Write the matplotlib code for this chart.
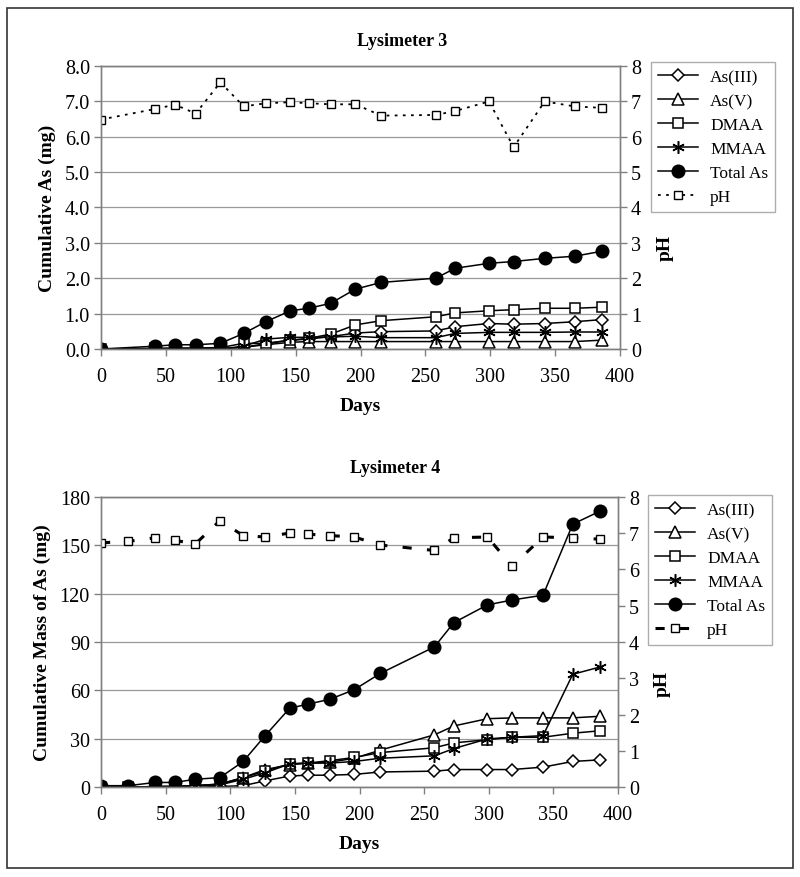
import numpy as np
import matplotlib
matplotlib.use("Agg")
import matplotlib.pyplot as plt
from matplotlib.patches import Rectangle

plt.rcParams["font.family"] = ["Liberation Serif", "DejaVu Serif"]

# ------------------------------------------------------------
# Lysimeter 3 data
# ------------------------------------------------------------
days3 = [0, 42, 57, 73, 92, 110, 127, 146, 160, 177, 196, 216, 258, 273, 299, 318, 342, 365, 386]
as3_iii = [0, 0, 0, 0, 0.01, 0.05, 0.15, 0.25, 0.28, 0.35, 0.45, 0.49, 0.51, 0.63, 0.72, 0.70, 0.72, 0.77, 0.83]
as3_v = [0, 0, 0, 0, 0, 0.05, 0.12, 0.19, 0.21, 0.21, 0.21, 0.21, 0.21, 0.21, 0.21, 0.21, 0.21, 0.21, 0.25]
dmaa3 = [0, 0.02, 0.03, 0.03, 0.04, 0.16, 0.16, 0.25, 0.30, 0.42, 0.68, 0.80, 0.91, 1.02, 1.08, 1.11, 1.15, 1.15, 1.18]
mmaa3 = [0, 0, 0, 0, 0, 0.08, 0.28, 0.33, 0.33, 0.34, 0.36, 0.32, 0.32, 0.44, 0.47, 0.47, 0.47, 0.48, 0.48]
total3 = [0, 0.08, 0.12, 0.12, 0.16, 0.44, 0.77, 1.08, 1.15, 1.29, 1.69, 1.88, 2.00, 2.28, 2.42, 2.47, 2.56, 2.62, 2.76]
ph3 = [6.48, 6.78, 6.90, 6.65, 7.53, 6.85, 6.94, 6.97, 6.94, 6.91, 6.91, 6.59, 6.61, 6.72, 6.99, 5.70, 6.99, 6.85, 6.81]

# ------------------------------------------------------------
# Lysimeter 4 data
# ------------------------------------------------------------
days4 = [0, 21, 42, 57, 73, 92, 110, 127, 146, 160, 177, 196, 216, 258, 273, 299, 318, 342, 365, 386]
as4_iii = [0, 0, 0, 0, 0, 0.5, 1, 4, 7, 7.5, 7.5, 8, 9.5, 10, 11, 11, 11, 12.5, 16, 17]
as4_v = [0, 0, 0.5, 0.5, 1, 2, 6, 11, 14, 15, 15.5, 18, 23, 32.5, 38, 42.5, 43, 43, 43, 44]
dmaa4 = [0, 0, 0.5, 0.5, 1, 2, 6, 10, 14.5, 15, 16.5, 18.5, 21.5, 24.5, 27.5, 29.5, 31, 31, 33.5, 35]
mmaa4 = [0, 0, 0.5, 0.5, 1, 1.5, 5, 9, 14.5, 15, 15, 16, 18, 19.5, 24, 30, 31, 32, 70, 74.5]
total4 = [1, 1, 3, 3, 5, 6, 16, 32, 49, 51.5, 54.5, 60.5, 70.5, 87, 102, 113, 116, 119, 163, 171]
ph4 = [6.73, 6.77, 6.87, 6.80, 6.70, 7.34, 6.93, 6.89, 7.00, 6.97, 6.93, 6.89, 6.67, 6.52, 6.87, 6.89, 6.09, 6.89, 6.87, 6.83]

labels = ["As(III)", "As(V)", "DMAA", "MMAA", "Total As", "pH"]
W, H = 800, 878

fig = plt.figure(figsize=(8.0, 8.78), dpi=100)
fig.patches.append(Rectangle((7 / W, 1 - 869 / H), 786 / W, 860 / H,
                             transform=fig.transFigure, fill=False,
                             edgecolor="#333333", linewidth=1.2))

series_style = [
    dict(marker="D", markersize=6.5, mfc="white"),
    dict(marker="^", markersize=8, mfc="white"),
    dict(marker="s", markersize=7.5, mfc="white"),
    dict(marker=(6, 2, 0), markersize=9, mfc="black"),
    dict(marker="o", markersize=9, mfc="black"),
]


def draw_panel(rect, days, series, ph, ph_style, ymax, yticks, yfmt, ylabel,
               title, title_x, title_y, legend_box, ph_label_y):
    ax = fig.add_axes(rect)
    ax2 = ax.twinx()

    handles = []
    for vals, st in zip(series, series_style):
        h, = ax.plot(days, vals, color="black", linewidth=1.1, mec="black",
                     mew=1.1, **st)
        handles.append(h)

    hp, = ax2.plot(days, ph, color="black", marker="s", markersize=6,
                   mfc="white", mec="black", mew=1.0, **ph_style)
    handles.append(hp)

    ax.set_xlim(0, 400)
    ax.set_xticks(range(0, 401, 50))
    ax.set_ylim(0, ymax)
    ax.set_yticks(yticks)
    ax.set_yticklabels([yfmt.format(v) for v in yticks])
    ax2.set_ylim(0, 8)
    ax2.set_yticks(range(0, 9))

    ax.yaxis.grid(True, color="#999999", linewidth=0.9)
    ax.set_axisbelow(True)

    for a in (ax, ax2):
        for sp in a.spines.values():
            sp.set_color("#808080")
            sp.set_linewidth(1.0)
        a.tick_params(direction="out", length=5, width=1.0, color="#808080",
                      labelsize=14.5)
    ax.tick_params(axis="x", pad=8)
    ax.tick_params(axis="y", pad=3)
    ax2.tick_params(axis="y", pad=3)

    ax.set_xlabel("Days", fontsize=14, fontweight="bold", labelpad=8)
    ax.set_ylabel(ylabel, fontsize=14, fontweight="bold", labelpad=6)
    ax2.set_ylabel("pH", fontsize=14, fontweight="bold")
    ax2.yaxis.set_label_coords(1.07, ph_label_y)

    fig.text(title_x, title_y, title, ha="center", va="center", fontsize=13,
             fontweight="bold")

    leg = ax2.legend(handles, labels, loc="upper left",
                     bbox_to_anchor=legend_box, bbox_transform=fig.transFigure,
                     fontsize=12.5, frameon=True, fancybox=False,
                     handlelength=2.3, handletextpad=0.7, borderpad=0.4,
                     labelspacing=0.45, borderaxespad=0)
    leg.get_frame().set_edgecolor("#999999")
    leg.get_frame().set_linewidth(1.0)
    return ax, ax2


draw_panel(
    [101 / W, 1 - 350 / H, 519 / W, 283.3 / H],
    days3, [as3_iii, as3_v, dmaa3, mmaa3, total3], ph3,
    dict(linestyle=(0, (1.5, 3)), linewidth=1.3),
    8.0, np.arange(0, 8.01, 1.0), "{:.1f}", "Cumulative As (mg)",
    "Lysimeter 3", 0.503, 1 - 42 / H, (651 / W, 1 - 63 / H), 0.36,
)

draw_panel(
    [101 / W, 1 - 788.3 / H, 517 / W, 290.6 / H],
    days4, [as4_iii, as4_v, dmaa4, mmaa4, total4], ph4,
    dict(linestyle=(0, (3, 5)), linewidth=2.2),
    180, list(range(0, 181, 30)), "{:d}", "Cumulative Mass of As (mg)",
    "Lysimeter 4", 0.494, 1 - 469 / H, (648 / W, 1 - 496 / H), 0.36,
)

fig.savefig("out.png", dpi=100)
